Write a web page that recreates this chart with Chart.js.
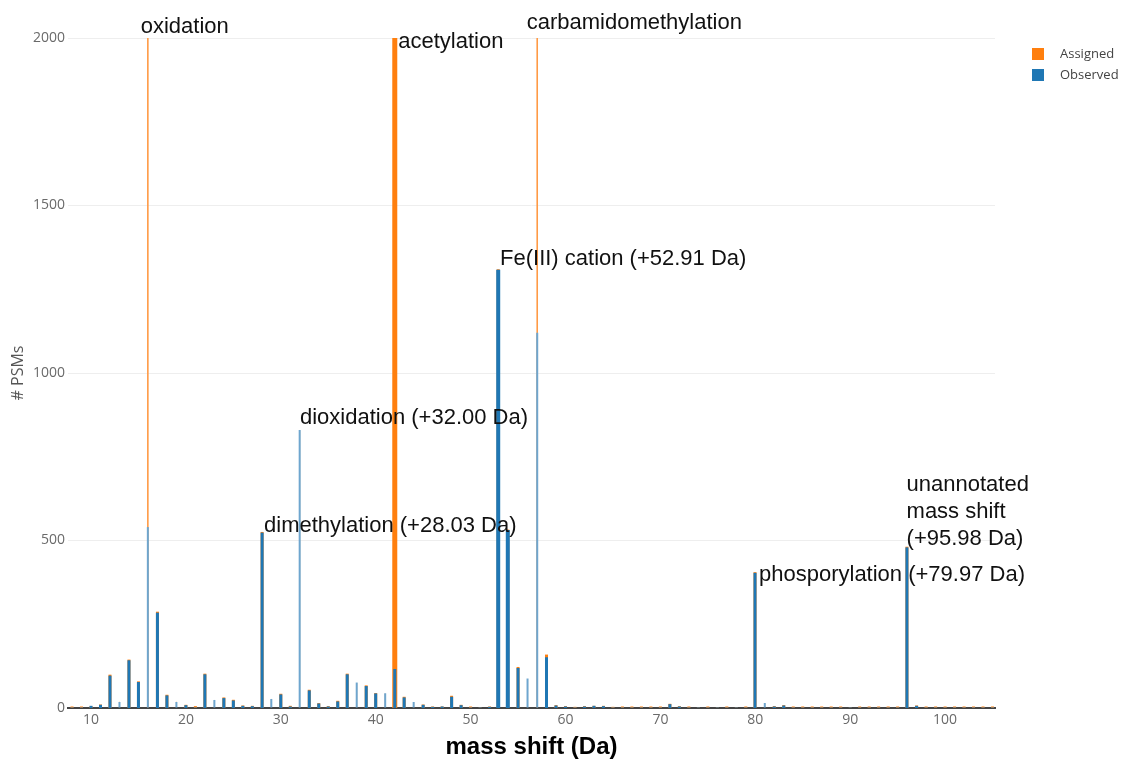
<!DOCTYPE html>
<html>
<head>
<meta charset="utf-8">
<script src="https://cdn.jsdelivr.net/npm/chart.js@4.4.1/dist/chart.umd.min.js"></script>
<style>
  html, body { margin: 0; padding: 0; background: #fff; }
  #wrap { width: 1126px; height: 763px; }
</style>
</head>
<body>
<div id="wrap"><canvas id="massShiftChart"></canvas></div>
<script>
// mass shift bins (Da) and PSM counts
const massShifts = [8, 9, 10, 11, 12, 13, 14, 15, 15.99, 17, 18, 19, 20, 21, 22, 23, 24, 25, 26, 27,
  28.03, 29, 30, 31, 31.99, 33, 34, 35, 36, 37, 38, 39, 40, 41, 42.01, 43, 44, 45, 46, 47,
  48, 49, 50, 51, 52, 52.91, 53.92, 55, 56, 57.02, 58, 59, 60, 61, 62, 63, 64, 65, 66, 67,
  68, 69, 70, 71, 72, 73, 74, 75, 76, 77, 78, 79, 79.97, 81, 82, 83, 84, 85, 86, 87,
  88, 89, 90, 91, 92, 93, 94, 95, 95.98, 97, 98, 99, 100, 101, 102, 103, 104, 105];

const assigned = [3, 3, 4, 9, 98, 20, 143, 78, 2600, 286, 38, 20, 8, 4, 101, 24, 30, 23, 6, 5,
  524, 27, 41, 5, 830, 53, 13, 4, 20, 101, 76, 66, 43, 44, 3400, 32, 18, 9, 3, 3,
  35, 8, 3, 0, 3, 1308, 531, 121, 88, 2900, 158, 7, 4, 2, 4, 5, 5, 2, 3, 3,
  3, 3, 3, 11, 4, 3, 0, 3, 0, 3, 0, 3, 404, 15, 4, 7, 3, 3, 3, 3,
  3, 3, 0, 3, 3, 3, 3, 3, 480, 6, 3, 3, 3, 3, 3, 3, 3, 3];

const observed = [0, 0, 5, 8, 95, 18, 141, 76, 540, 283, 36, 18, 7, 0, 99, 24, 28, 21, 5, 4,
  522, 27, 39, 3, 830, 51, 12, 3, 18, 99, 76, 64, 42, 44, 115, 30, 18, 8, 2, 3,
  32, 7, 0, 0, 2, 1305, 528, 118, 88, 1120, 150, 6, 3, 0, 3, 5, 4, 0, 0, 0,
  0, 0, 0, 10, 3, 0, 0, 0, 0, 0, 0, 0, 402, 15, 3, 6, 0, 0, 0, 0,
  0, 0, 0, 0, 0, 0, 0, 0, 478, 5, 0, 0, 0, 0, 0, 0, 0, 0];

const xTicks = [10, 20, 30, 40, 50, 60, 70, 80, 90, 100];
const yTicks = [0, 500, 1000, 1500, 2000];

// text annotations (anchored at left edge / middle, in data units)
const noteText = ['oxidation', 'acetylation', 'carbamidomethylation', 'Fe(III) cation (+52.91 Da)',
  'dioxidation (+32.00 Da)', 'dimethylation (+28.03 Da)', 'phosporylation (+79.97 Da)',
  'unannotated\nmass shift\n(+95.98 Da)'];
const noteX = [15.24, 42.38, 55.91, 53.10, 32.02, 28.23, 80.39, 95.94];
const noteY = [2033, 1989, 2046, 1340, 866, 543, 397, 666];

// bar look
const BLUE = '#1f77b4', BLUE_LIGHT = '#6ea6cf';
const ORANGE = '#ff7f0e', ORANGE_LIGHT = '#ffaa66', ORANGE_MID = '#ff9a45';
const thinShifts = [13, 15.99, 19, 23, 29, 31.99, 38, 41, 44, 56, 57.02, 81];
const tallThinAssigned = [15.99, 57.02];
const thickObserved = [52.91, 53.92];
const thickAssigned = [42.01];

const toPoints = (vals) => massShifts.map((m, i) => ({ x: m, y: vals[i] }));
const rawX = (c) => (c.raw ? c.raw.x : null);

const notesPlugin = {
  id: 'notes',
  afterDraw(chart) {
    const { ctx, chartArea, scales: { x, y } } = chart;
    ctx.save();
    ctx.font = '22px "Liberation Sans", Arial, sans-serif';
    ctx.fillStyle = '#111';
    ctx.textBaseline = 'middle';
    ctx.textAlign = 'left';
    noteText.forEach((t, i) => {
      const px = x.getPixelForValue(noteX[i]);
      const py = y.getPixelForValue(noteY[i]);
      t.split('\n').forEach((line, k) => ctx.fillText(line, px, py + k * 27));
    });

    // legend, top right
    ctx.font = '13px "Open Sans", sans-serif';
    const lx = chartArea.right + 37;
    chart.data.datasets.forEach((ds, i) => {
      const cy = 54 + i * 21;
      ctx.fillStyle = ds.legendColor;
      ctx.fillRect(lx, cy - 6, 12, 12);
      ctx.fillStyle = '#444';
      ctx.fillText(ds.label, lx + 28, cy);
    });
    ctx.restore();
  }
};

new Chart(document.getElementById('massShiftChart'), {
  type: 'bar',
  data: {
    datasets: [
      {
        label: 'Assigned',
        data: toPoints(assigned),
        legendColor: ORANGE,
        order: 1,
        barThickness: 2,
        clip: 0,
        backgroundColor: (c) => {
          const m = rawX(c);
          if (tallThinAssigned.includes(m)) return ORANGE_MID;
          return thinShifts.includes(m) ? ORANGE_LIGHT : ORANGE;
        },
        inflateAmount: (c) => {
          const m = rawX(c);
          if (thickAssigned.includes(m)) return 1.5;
          if (tallThinAssigned.includes(m)) return -0.2;
          if (thinShifts.includes(m)) return -0.5;
          return 0.5;
        },
      },
      {
        label: 'Observed',
        data: toPoints(observed),
        legendColor: BLUE,
        order: 0,
        barThickness: 2,
        clip: 0,
        backgroundColor: (c) => (thinShifts.includes(rawX(c)) ? BLUE_LIGHT : BLUE),
        inflateAmount: (c) => {
          const m = rawX(c);
          if (thickObserved.includes(m)) return 1;
          if (thinShifts.includes(m)) return 0;
          return 0.5;
        },
      },
    ],
  },
  options: {
    responsive: true,
    maintainAspectRatio: false,
    animation: false,
    grouped: false,
    layout: { padding: { top: 38, right: 131, bottom: 0, left: 0 } },
    plugins: {
      legend: { display: false },
      tooltip: { enabled: false },
    },
    scales: {
      x: {
        type: 'linear',
        min: 7.576,
        max: 105.26,
        offset: false,
        afterBuildTicks: (s) => { s.ticks = xTicks.map((v) => ({ value: v })); },
        afterFit: (s) => { s.height = 55; },
        grid: { display: false, drawTicks: false },
        border: { display: true, color: '#444', width: 2 },
        ticks: {
          color: '#6a6a6a',
          padding: 4,
          maxRotation: 0,
          callback: (v) => String(v),
          font: { family: '"Open Sans", sans-serif', size: 14 },
        },
        title: {
          display: true,
          text: 'mass shift (Da)',
          color: '#000',
          padding: { top: 0, bottom: 1 },
          font: { family: '"Liberation Sans", Arial, sans-serif', size: 24, weight: 'bold' },
        },
      },
      y: {
        min: 0,
        max: 2000,
        afterBuildTicks: (s) => { s.ticks = yTicks.map((v) => ({ value: v })); },
        afterFit: (s) => { s.width = 68; },
        grid: { color: '#eeeeee', drawTicks: false },
        border: { display: false },
        ticks: {
          color: '#6a6a6a',
          padding: 3,
          callback: (v) => String(v),
          font: { family: '"Open Sans", sans-serif', size: 14 },
        },
        title: {
          display: true,
          text: '# PSMs',
          color: '#555',
          padding: { top: 9, bottom: 0 },
          font: { family: '"Open Sans", sans-serif', size: 16 },
        },
      },
    },
  },
  plugins: [notesPlugin],
});
</script>
</body>
</html>
